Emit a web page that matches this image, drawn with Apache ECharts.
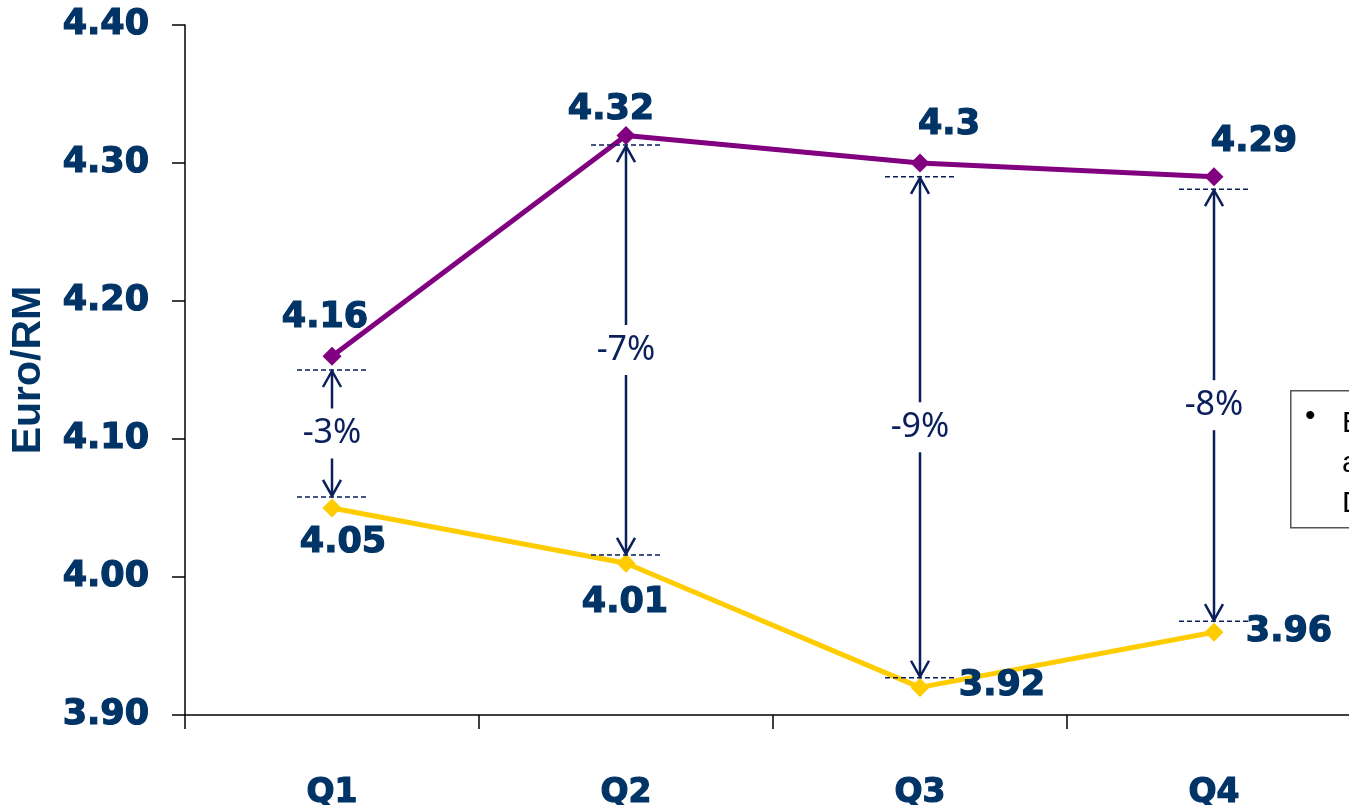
<!DOCTYPE html>
<html>
<head>
<meta charset="utf-8">
<script src="https://cdn.jsdelivr.net/npm/echarts@6/dist/echarts.min.js"></script>
<style>
  html, body { margin: 0; padding: 0; background: #fff; }
  #main { width: 1349px; height: 805px; }
</style>
</head>
<body>
<div id="main"></div>
<script>
// categories and values
var quarters = ['Q1', 'Q2', 'Q3', 'Q4'];
var upperRate = [4.16, 4.32, 4.30, 4.29];
var lowerRate = [4.05, 4.01, 3.92, 3.96];
var yTicks = { min: 3.90, max: 4.40, step: 0.10 };
// gap brackets: top / bottom dashed line values and their text
var gapTop = [4.150, 4.313, 4.290, 4.281];
var gapBottom = [4.058, 4.016, 3.927, 3.968];
var gapText = ['-3%', '-7%', '-9%', '-8%'];

var navy = '#003366';
var arrowBlue = '#0a1f5c';

// label placement (center of the text relative to the point)
var upperOffsets = [[-7, -38], [-15, -25], [29, -38], [40, -35]];
var lowerOffsets = [[11, 35], [-1, 40], [82, -1], [75, 0]];

function withLabels(values, offsets) {
    return values.map(function (v, i) {
        return { value: v, label: { offset: offsets[i] } };
    });
}

// heavy bold text (Verdana-like weight)
var heavy = {
    color: navy,
    fontFamily: 'DejaVu Sans',
    fontWeight: 'bold',
    textBorderColor: navy,
    textBorderWidth: 1.2
};

var boldLabel = Object.assign({
    show: true,
    position: 'inside',
    fontSize: 35,
    formatter: function (p) { return String(p.value); }
}, heavy);

var myChart = echarts.init(document.getElementById('main'));
myChart.setOption({
    animation: false,
    grid: { left: 185, top: 25, width: 1176, height: 690, outerBoundsMode: 'none', containLabel: false },
    xAxis: {
        type: 'category',
        data: quarters,
        boundaryGap: true,
        axisLine: { lineStyle: { color: '#000', width: 1.5 } },
        axisTick: { show: true, interval: 0, length: 14, lineStyle: { color: '#000', width: 1.5 } },
        axisLabel: Object.assign({ margin: 62, fontSize: 33 }, heavy)
    },
    yAxis: {
        type: 'value',
        min: yTicks.min,
        max: yTicks.max,
        interval: yTicks.step,
        name: 'Euro/RM',
        nameLocation: 'middle',
        nameRotate: 90,
        nameGap: 136,
        nameTextStyle: {
            color: navy, fontFamily: 'Liberation Sans',
            fontWeight: 'bold', fontSize: 41
        },
        splitLine: { show: false },
        axisLine: { show: true, lineStyle: { color: '#000', width: 1.5 } },
        axisTick: { show: true, length: 13, lineStyle: { color: '#000', width: 1.5 } },
        axisLabel: Object.assign({
            margin: 36, fontSize: 35,
            formatter: function (v) { return v.toFixed(2); }
        }, heavy)
    },
    series: [
        {
            type: 'line',
            data: withLabels(upperRate, upperOffsets),
            symbol: 'diamond',
            symbolSize: 19,
            lineStyle: { color: '#800080', width: 5 },
            itemStyle: { color: '#800080' },
            label: boldLabel
        },
        {
            type: 'line',
            data: withLabels(lowerRate, lowerOffsets),
            symbol: 'diamond',
            symbolSize: 19,
            lineStyle: { color: '#FFCC00', width: 5 },
            itemStyle: { color: '#FFCC00' },
            label: boldLabel
        },
        {
            type: 'custom',
            z: 5,
            encode: { x: 0, y: [1, 2] },
            data: quarters.map(function (q, i) { return [i, gapTop[i], gapBottom[i]]; }),
            renderItem: function (params, api) {
                var i = api.value(0);
                var pt = api.coord([i, api.value(1)]);
                var pb = api.coord([i, api.value(2)]);
                var cx = pt[0], yt = pt[1], yb = pb[1];
                var mid = (yt + yb) / 2;
                var gap = 25, half = 35, ah = 17, aw = 9;
                var dash = { stroke: arrowBlue, lineWidth: 1.5, lineDash: [5, 3] };
                var solid = { stroke: arrowBlue, lineWidth: 2.5, fill: null };
                return {
                    type: 'group',
                    children: [
                        { type: 'line', shape: { x1: cx - half, y1: yt, x2: cx + half, y2: yt }, style: dash },
                        { type: 'line', shape: { x1: cx - half, y1: yb, x2: cx + half, y2: yb }, style: dash },
                        { type: 'line', shape: { x1: cx, y1: yt + 1, x2: cx, y2: mid - gap }, style: solid },
                        { type: 'line', shape: { x1: cx, y1: mid + gap, x2: cx, y2: yb - 1 }, style: solid },
                        { type: 'polyline', shape: { points: [[cx - aw, yt + ah], [cx, yt + 1], [cx + aw, yt + ah]] }, style: solid },
                        { type: 'polyline', shape: { points: [[cx - aw, yb - ah], [cx, yb - 1], [cx + aw, yb - ah]] }, style: solid },
                        {
                            type: 'text', x: cx, y: mid,
                            style: {
                                text: gapText[params.dataIndex], fill: arrowBlue,
                                fontFamily: 'Noto Sans', fontSize: 34,
                                align: 'center', verticalAlign: 'middle'
                            }
                        }
                    ]
                };
            }
        }
    ],
    graphic: [
        {
            type: 'rect', left: 1290, top: 390,
            shape: { width: 120, height: 137 },
            style: { fill: '#fff', stroke: '#555', lineWidth: 1.5 }
        },
        {
            type: 'text', left: 1305, top: 402,
            style: { text: '•', fill: '#000', fontFamily: 'Liberation Sans', fontSize: 30 }
        },
        {
            type: 'text', left: 1342, top: 404,
            style: {
                text: 'Euro\nappreciated\nDue', fill: '#000',
                fontFamily: 'Liberation Sans', fontSize: 30, lineHeight: 40
            }
        }
    ]
});
</script>
</body>
</html>
